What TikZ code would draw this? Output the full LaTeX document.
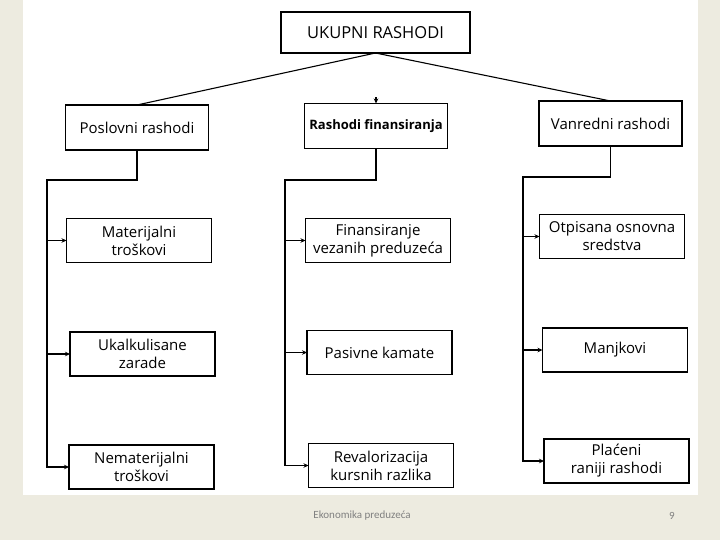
\documentclass[tikz,border=0pt]{standalone}
\usepackage{fontspec}
\setmainfont{Open Sans}
\newfontfamily\footfont{Carlito}
\usetikzlibrary{arrows.meta, positioning}
\definecolor{slidebg}{RGB}{237,235,224}
\definecolor{footgray}{RGB}{128,128,128}

\begin{document}
\begin{tikzpicture}[
    x=1pt, y=-1pt,
    rbox/.style={rectangle, draw=black, line width=1.1pt, fill=white, text centered, align=center, inner sep=2pt, outer sep=0pt, font=\fontsize{15}{18}\selectfont},
    tbox/.style={rbox, minimum width=143pt, minimum height=45pt},
    cbox/.style={rbox, minimum width=145pt, minimum height=44pt},
    rline/.style={line width=1.1pt, black},
    rarrow/.style={-{Stealth[length=5pt, width=4.5pt]}, line width=1.1pt, black}
]
% slide background
\fill[slidebg] (0,0) rectangle (720,540);
\fill[white] (23,0) rectangle (698,495);
\useasboundingbox (0,0) rectangle (720,540);

% top
\node[rbox, minimum width=189pt, minimum height=41pt, font=\fontsize{16.5}{19}\selectfont] (total) at (375.5,32.5) {UKUPNI RASHODI};

% groups
\node[tbox] (posl) at (137,127.5) {Poslovni rashodi};
\node[tbox, font=\fontsize{13}{16}\selectfont\bfseries] (fin) at (376,126) {Rashodi finansiranja};
\node[tbox] (vanr) at (610.5,123.5) {Vanredni rashodi};

% poslovni
\node[cbox] (mat) at (139,240.5) {Materijalni\\troškovi};
\node[cbox] (ukal) at (142.5,354) {Ukalkulisane\\zarade};
\node[cbox] (nemat) at (141.5,467) {Nematerijalni\\troškovi};

% finansiranja
\node[cbox] (vez) at (378,240.5) {Finansiranje\\vezanih preduzeća};
\node[cbox] (kam) at (379.5,352.5) {Pasivne kamate};
\node[cbox] (rev) at (381,465.5) {Revalorizacija\\kursnih razlika};

% vanredni
\node[cbox] (otp) at (612,236.5) {Otpisana osnovna\\sredstva};
\node[cbox] (manj) at (615,350) {Manjkovi};
\node[cbox] (plac) at (616.5,461) {Plaćeni\\raniji rashodi};

% links from the top
\draw[rline] (total.south) -- (posl.north);
\draw[rline] (total.south) -- (vanr.north);
\draw[rarrow] (fin.north) ++(0,-6) -- (fin.north);

% buses
\coordinate (lbus) at (47,180);
\coordinate (mbus) at (285,180);
\coordinate (rbus) at (523,177);

\draw[rarrow] (posl.south) |- (lbus) |- (nemat.west);
\draw[rarrow] (lbus |- mat.west) -- (mat.west);
\draw[rarrow] (lbus |- ukal.west) -- (ukal.west);

\draw[rarrow] (fin.south) |- (mbus) |- (rev.west);
\draw[rarrow] (mbus |- vez.west) -- (vez.west);
\draw[rarrow] (mbus |- kam.west) -- (kam.west);

\draw[rarrow] (vanr.south) |- (rbus) |- (plac.west);
\draw[rarrow] (rbus |- otp.west) -- (otp.west);
\draw[rarrow] (rbus |- manj.west) -- (manj.west);

% footer
\node[font=\footfont\fontsize{11}{13}\selectfont, text=footgray] (foot) at (362,516) {Ekonomika preduzeća};
\node[font=\footfont\fontsize{11}{13}\selectfont, text=footgray] (page) at (672,516) {9};
\end{tikzpicture}
\end{document}
